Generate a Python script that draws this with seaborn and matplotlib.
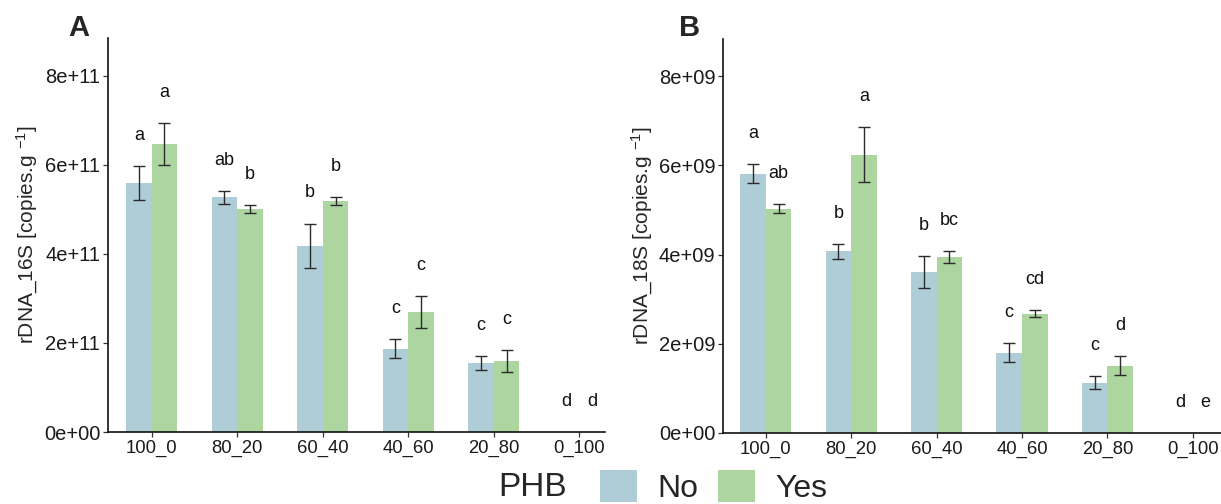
import numpy as np
import pandas as pd
import matplotlib
matplotlib.use("Agg")
import matplotlib.pyplot as plt
from matplotlib.patches import Patch
import seaborn as sns

# ---------------- data ----------------
categories = ["100_0", "80_20", "60_40", "40_60", "20_80", "0_100"]
phb_levels = ["No", "Yes"]

mean_16s_no = [5.59e11, 5.27e11, 4.18e11, 1.87e11, 1.55e11, 0.0]
mean_16s_yes = [6.47e11, 5.01e11, 5.18e11, 2.69e11, 1.59e11, 0.0]
se_16s_no = [0.38e11, 0.14e11, 0.50e11, 0.21e11, 0.16e11, 0.0]
se_16s_yes = [0.47e11, 0.09e11, 0.09e11, 0.36e11, 0.25e11, 0.0]
letters_16s_no = ["a", "ab", "b", "c", "c", "d"]
letters_16s_yes = ["a", "b", "b", "c", "c", "d"]

mean_18s_no = [5.81e9, 4.07e9, 3.60e9, 1.80e9, 1.13e9, 0.0]
mean_18s_yes = [5.03e9, 6.24e9, 3.94e9, 2.67e9, 1.51e9, 0.0]
se_18s_no = [0.21e9, 0.17e9, 0.36e9, 0.21e9, 0.14e9, 0.0]
se_18s_yes = [0.10e9, 0.62e9, 0.13e9, 0.08e9, 0.22e9, 0.0]
letters_18s_no = ["a", "b", "b", "c", "c", "d"]
letters_18s_yes = ["ab", "a", "bc", "cd", "d", "e"]

yticks_16s = [0, 2e11, 4e11, 6e11, 8e11]
yticklabels_16s = ["0e+00", "2e+11", "4e+11", "6e+11", "8e+11"]
yticks_18s = [0, 2e9, 4e9, 6e9, 8e9]
yticklabels_18s = ["0e+00", "2e+09", "4e+09", "6e+09", "8e+09"]

colors = {"No": "#aecdd6", "Yes": "#acd5a0"}

# ---------------- style ----------------
sns.set_theme(style="ticks")
plt.rcParams["font.family"] = ["Liberation Sans", "DejaVu Sans"]
plt.rcParams["mathtext.fontset"] = "custom"
plt.rcParams["mathtext.rm"] = "Liberation Sans"
plt.rcParams["mathtext.it"] = "Liberation Sans"


def make_df(m_no, m_yes, s_no, s_yes, l_no, l_yes):
    rows = []
    for i, c in enumerate(categories):
        rows.append(dict(cat=c, PHB="No", mean=m_no[i], se=s_no[i], letter=l_no[i]))
        rows.append(dict(cat=c, PHB="Yes", mean=m_yes[i], se=s_yes[i], letter=l_yes[i]))
    return pd.DataFrame(rows)


df16 = make_df(mean_16s_no, mean_16s_yes, se_16s_no, se_16s_yes, letters_16s_no, letters_16s_yes)
df18 = make_df(mean_18s_no, mean_18s_yes, se_18s_no, se_18s_yes, letters_18s_no, letters_18s_yes)

W, H = 1221, 504
fig = plt.figure(figsize=(W / 100, H / 100), dpi=100)
axA = fig.add_axes([108 / W, (H - 432) / H, (605 - 108) / W, (432 - 38) / H])
axB = fig.add_axes([723 / W, (H - 433) / H, (1221 - 723) / W, (433 - 39) / H])


def draw(ax, df, ymax, yticks, yticklabels, ylabel, xlim):
    sns.barplot(data=df, x="cat", y="mean", hue="PHB", order=categories,
                hue_order=phb_levels, palette=colors, width=0.6,
                errorbar=None, saturation=1, ax=ax, legend=False, linewidth=0)
    off = 0.078 * ymax
    for j, lvl in enumerate(phb_levels):
        sub = df[df.PHB == lvl].set_index("cat").loc[categories]
        xs = np.arange(len(categories)) + (j - 0.5) * 0.3
        m = sub["mean"].values
        s = sub["se"].values
        mask = m > 0
        ax.errorbar(xs[mask], m[mask], yerr=s[mask], fmt="none",
                    ecolor="#2b2b2b", elinewidth=1.0, capsize=4, capthick=1.0, zorder=3)
        for x, mm, ss, lt in zip(xs, m, s, sub["letter"].values):
            ax.text(x, mm + ss + off, lt, ha="center", va="center", fontsize=13, color="#111111")
    ax.set_ylim(0, ymax)
    ax.set_xlim(*xlim)
    ax.set_yticks(yticks)
    ax.set_yticklabels(yticklabels)
    ax.set_xlabel("")
    ax.set_ylabel(ylabel, fontsize=15, labelpad=3)
    ax.tick_params(axis="both", length=3.5, width=0.9, color="#333333",
                   labelcolor="#1a1a1a", pad=2)
    ax.tick_params(axis="y", labelsize=14.5)
    ax.tick_params(axis="x", labelsize=13.3)
    for sp in ["top", "right"]:
        ax.spines[sp].set_visible(False)
    for sp in ["left", "bottom"]:
        ax.spines[sp].set_linewidth(1.2)
        ax.spines[sp].set_color("#111111")


draw(axA, df16, 8.85e11, yticks_16s, yticklabels_16s,
     r"rDNA_16S [copies.g $^{-1}$]", (-0.51, 5.30))
draw(axB, df18, 8.83e9, yticks_18s, yticklabels_18s,
     r"rDNA_18S [copies.g $^{-1}$]", (-0.50, 5.33))

fig.text(79 / W, 1 - 28 / H, "A", fontsize=21, fontweight="bold", ha="center", va="center")
fig.text(690 / W, 1 - 28 / H, "B", fontsize=21, fontweight="bold", ha="center", va="center")

# legend
fig.text(533 / W, 1 - 487 / H, "PHB", fontsize=24, ha="center", va="center")
handles = [Patch(facecolor=colors[l], edgecolor="none", label=l) for l in phb_levels]
fig.legend(handles=handles, loc="center left", bbox_to_anchor=(600 / W, 1 - 487 / H),
           ncol=2, frameon=False, fontsize=23, handlelength=1.16, handleheight=1.16,
           handletextpad=0.63, columnspacing=0.63, borderaxespad=0, borderpad=0)

fig.savefig("out.png", dpi=100)
